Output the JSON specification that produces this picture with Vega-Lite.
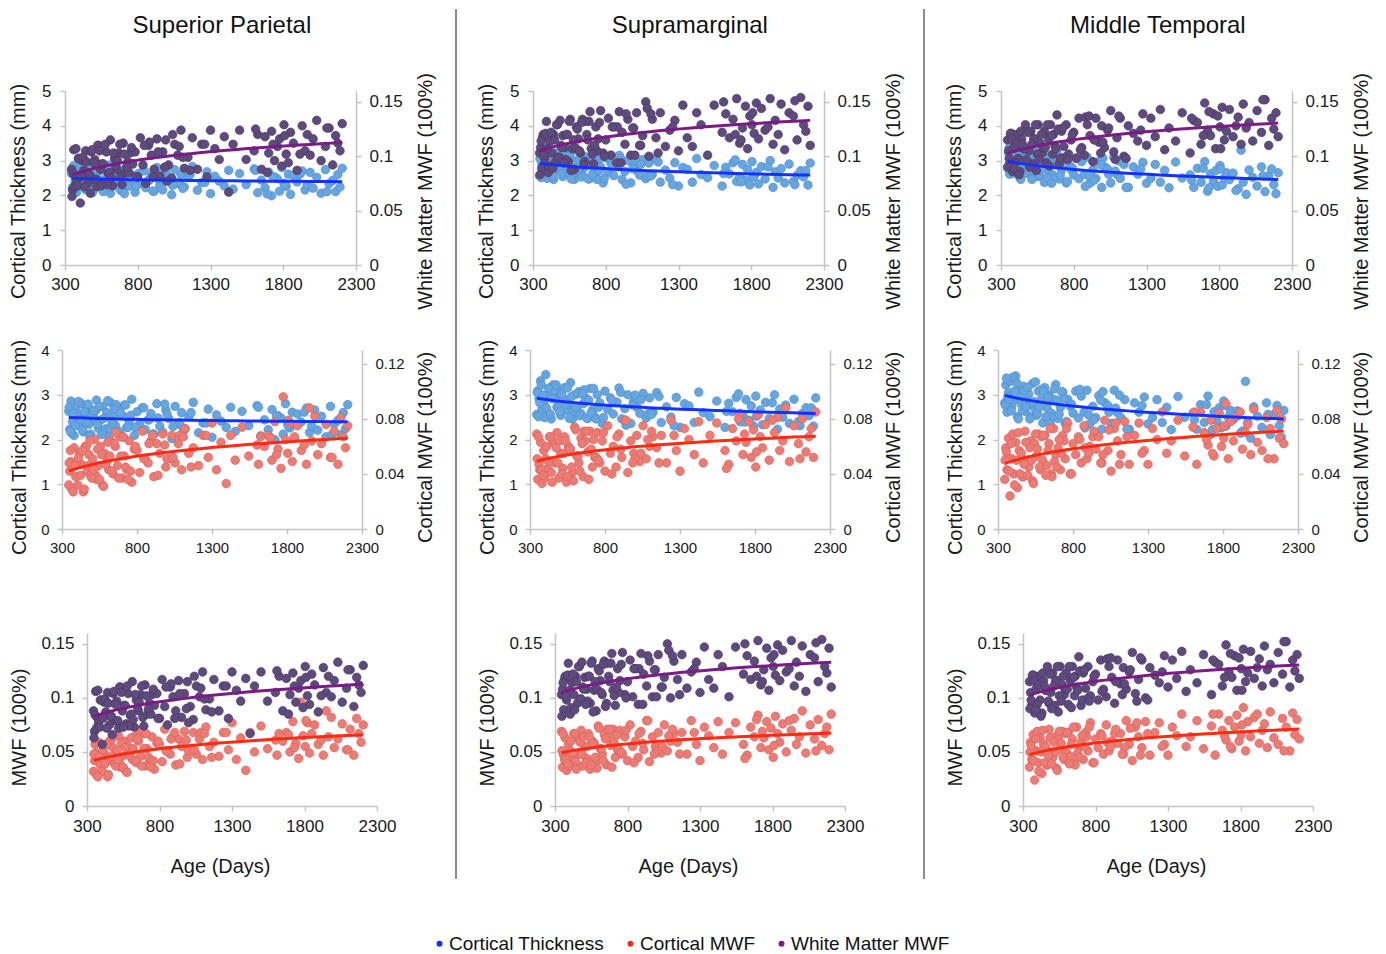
{
"$schema": "https://vega.github.io/schema/vega-lite/v6.json",
"background": "white",
"padding": {"left": 8, "top": 8, "right": 6, "bottom": 0},
"config": {
  "view": {"stroke": null},
  "font": "Liberation Sans",
  "axis": {"domainColor": "#c4c4c4", "domainWidth": 1.5, "tickColor": "#c4c4c4", "tickWidth": 1.5, "tickSize": 5, "grid": false, "labelColor": "#1a1a1a", "titleColor": "#1a1a1a", "titleFontWeight": "normal", "titleFontSize": 20, "labelFont": "Liberation Sans", "titleFont": "Liberation Sans", "labelFlush": false, "labelOverlap": false},
  "title": {"fontSize": 24, "fontWeight": "normal", "font": "Liberation Sans", "color": "#111111"},
  "legend": {"orient": "bottom", "direction": "horizontal", "symbolType": "circle", "symbolSize": 36, "labelFontSize": 19, "labelFont": "Liberation Sans", "labelColor": "#111111", "columnPadding": 16, "labelOffset": 0, "offset": 54, "layout": {"bottom": {"anchor": "middle"}}}
},
"datasets": {"d": [
{"a":345,"t1":2.63,"c1":0.032,"w1":0.088,"t2":2.56,"c2":0.069,"w2":0.103,"t3":2.82,"c3":0.036,"w3":0.115},
{"a":352,"t1":2.23,"c1":0.042,"w1":0.069,"t2":3.09,"c2":0.036,"w2":0.108,"t3":3.22,"c3":0.059,"w3":0.105},
{"a":360,"t1":2.86,"c1":0.049,"w1":0.106,"t2":2.91,"c2":0.047,"w2":0.089,"t3":2.61,"c3":0.043,"w3":0.093},
{"a":370,"t1":2.40,"c1":0.029,"w1":0.082,"t2":3.31,"c2":0.063,"w2":0.120,"t3":3.05,"c3":0.066,"w3":0.121},
{"a":380,"t1":2.09,"c1":0.059,"w1":0.077,"t2":2.68,"c2":0.033,"w2":0.098,"t3":3.30,"c3":0.024,"w3":0.086},
{"a":392,"t1":2.72,"c1":0.038,"w1":0.098,"t2":2.85,"c2":0.057,"w2":0.132,"t3":2.74,"c3":0.051,"w3":0.109},
{"a":405,"t1":2.54,"c1":0.032,"w1":0.057,"t2":3.45,"c2":0.051,"w2":0.085,"t3":2.88,"c3":0.040,"w3":0.120},
{"a":418,"t1":2.31,"c1":0.055,"w1":0.096,"t2":2.61,"c2":0.044,"w2":0.114,"t3":3.42,"c3":0.063,"w3":0.098},
{"a":430,"t1":2.80,"c1":0.047,"w1":0.087,"t2":3.01,"c2":0.067,"w2":0.103,"t3":2.51,"c3":0.030,"w3":0.086},
{"a":442,"t1":2.17,"c1":0.027,"w1":0.105,"t2":2.46,"c2":0.041,"w2":0.120,"t3":3.11,"c3":0.057,"w3":0.116},
{"a":455,"t1":2.57,"c1":0.060,"w1":0.075,"t2":3.22,"c2":0.063,"w2":0.095,"t3":2.80,"c3":0.055,"w3":0.107},
{"a":468,"t1":2.75,"c1":0.042,"w1":0.083,"t2":2.91,"c2":0.048,"w2":0.129,"t3":3.19,"c3":0.038,"w3":0.129},
{"a":480,"t1":2.34,"c1":0.054,"w1":0.104,"t2":2.72,"c2":0.070,"w2":0.099,"t3":2.63,"c3":0.071,"w3":0.095},
{"a":492,"t1":2.12,"c1":0.039,"w1":0.079,"t2":3.08,"c2":0.037,"w2":0.110,"t3":2.87,"c3":0.050,"w3":0.105},
{"a":505,"t1":2.65,"c1":0.051,"w1":0.097,"t2":2.54,"c2":0.055,"w2":0.119,"t3":3.02,"c3":0.045,"w3":0.123},
{"a":518,"t1":2.47,"c1":0.065,"w1":0.072,"t2":2.93,"c2":0.044,"w2":0.108,"t3":2.51,"c3":0.064,"w3":0.093},
{"a":530,"t1":2.88,"c1":0.036,"w1":0.110,"t2":3.16,"c2":0.067,"w2":0.120,"t3":3.25,"c3":0.035,"w3":0.116},
{"a":543,"t1":2.25,"c1":0.046,"w1":0.088,"t2":2.65,"c2":0.034,"w2":0.095,"t3":2.70,"c3":0.062,"w3":0.087},
{"a":556,"t1":2.43,"c1":0.060,"w1":0.093,"t2":2.79,"c2":0.060,"w2":0.134,"t3":2.54,"c3":0.053,"w3":0.129},
{"a":570,"t1":2.74,"c1":0.032,"w1":0.076,"t2":3.27,"c2":0.058,"w2":0.107,"t3":3.08,"c3":0.069,"w3":0.112},
{"a":584,"t1":2.20,"c1":0.055,"w1":0.104,"t2":2.46,"c2":0.041,"w2":0.088,"t3":2.88,"c3":0.043,"w3":0.103},
{"a":598,"t1":2.60,"c1":0.049,"w1":0.084,"t2":3.00,"c2":0.074,"w2":0.127,"t3":2.37,"c3":0.050,"w3":0.123},
{"a":612,"t1":2.06,"c1":0.043,"w1":0.115,"t2":2.72,"c2":0.053,"w2":0.116,"t3":3.16,"c3":0.068,"w3":0.094},
{"a":626,"t1":2.82,"c1":0.064,"w1":0.073,"t2":3.07,"c2":0.048,"w2":0.103,"t3":2.71,"c3":0.046,"w3":0.116},
{"a":640,"t1":2.51,"c1":0.040,"w1":0.098,"t2":2.58,"c2":0.066,"w2":0.134,"t3":3.00,"c3":0.062,"w3":0.129},
{"a":655,"t1":2.32,"c1":0.060,"w1":0.088,"t2":2.80,"c2":0.038,"w2":0.095,"t3":2.59,"c3":0.040,"w3":0.102},
{"a":670,"t1":2.69,"c1":0.046,"w1":0.103,"t2":2.93,"c2":0.064,"w2":0.120,"t3":2.89,"c3":0.073,"w3":0.110},
{"a":685,"t1":2.14,"c1":0.067,"w1":0.082,"t2":2.47,"c2":0.056,"w2":0.132,"t3":3.23,"c3":0.054,"w3":0.138},
{"a":700,"t1":2.54,"c1":0.037,"w1":0.112,"t2":3.14,"c2":0.071,"w2":0.107,"t3":2.47,"c3":0.059,"w3":0.093},
{"a":716,"t1":2.77,"c1":0.053,"w1":0.085,"t2":2.65,"c2":0.045,"w2":0.093,"t3":2.72,"c3":0.043,"w3":0.123},
{"a":732,"t1":2.27,"c1":0.043,"w1":0.095,"t2":2.51,"c2":0.052,"w2":0.127,"t3":3.06,"c3":0.068,"w3":0.109},
{"a":748,"t1":2.40,"c1":0.064,"w1":0.103,"t2":3.00,"c2":0.070,"w2":0.116,"t3":2.36,"c3":0.051,"w3":0.129},
{"a":765,"t1":2.90,"c1":0.034,"w1":0.093,"t2":2.82,"c2":0.048,"w2":0.142,"t3":2.90,"c3":0.077,"w3":0.102},
{"a":782,"t1":2.09,"c1":0.058,"w1":0.104,"t2":2.36,"c2":0.064,"w2":0.103,"t3":2.74,"c3":0.040,"w3":0.115},
{"a":800,"t1":2.62,"c1":0.057,"w1":0.081,"t2":3.08,"c2":0.042,"w2":0.115,"t3":2.59,"c3":0.062,"w3":0.122},
{"a":818,"t1":2.35,"c1":0.041,"w1":0.117,"t2":2.67,"c2":0.075,"w2":0.135,"t3":3.08,"c3":0.054,"w3":0.098},
{"a":836,"t1":2.71,"c1":0.071,"w1":0.092,"t2":2.93,"c2":0.055,"w2":0.101,"t3":2.48,"c3":0.067,"w3":0.135},
{"a":855,"t1":2.22,"c1":0.051,"w1":0.075,"t2":2.57,"c2":0.060,"w2":0.127,"t3":2.97,"c3":0.048,"w3":0.108},
{"a":874,"t1":2.44,"c1":0.048,"w1":0.110,"t2":2.83,"c2":0.045,"w2":0.094,"t3":2.61,"c3":0.075,"w3":0.101},
{"a":893,"t1":2.58,"c1":0.064,"w1":0.101,"t2":3.15,"c2":0.069,"w2":0.141,"t3":3.10,"c3":0.051,"w3":0.129},
{"a":912,"t1":2.12,"c1":0.038,"w1":0.088,"t2":2.46,"c2":0.052,"w2":0.122,"t3":2.35,"c3":0.060,"w3":0.119},
{"a":932,"t1":2.80,"c1":0.062,"w1":0.116,"t2":2.69,"c2":0.079,"w2":0.111,"t3":2.74,"c3":0.067,"w3":0.095},
{"a":952,"t1":2.30,"c1":0.055,"w1":0.082,"t2":3.00,"c2":0.041,"w2":0.134,"t3":2.49,"c3":0.058,"w3":0.135},
{"a":972,"t1":2.16,"c1":0.069,"w1":0.104,"t2":2.36,"c2":0.064,"w2":0.101,"t3":2.98,"c3":0.067,"w3":0.113},
{"a":992,"t1":2.66,"c1":0.045,"w1":0.115,"t2":2.86,"c2":0.055,"w2":0.126,"t3":2.23,"c3":0.048,"w3":0.128},
{"a":1012,"t1":2.47,"c1":0.051,"w1":0.092,"t2":2.72,"c2":0.068,"w2":0.140,"t3":2.82,"c3":0.079,"w3":0.108},
{"a":1033,"t1":2.02,"c1":0.068,"w1":0.080,"t2":2.58,"c2":0.049,"w2":0.110,"t3":2.76,"c3":0.057,"w3":0.124},
{"a":1054,"t1":2.74,"c1":0.048,"w1":0.111,"t2":3.03,"c2":0.075,"w2":0.119,"t3":2.36,"c3":0.042,"w3":0.142},
{"a":1075,"t1":2.34,"c1":0.062,"w1":0.101,"t2":2.48,"c2":0.051,"w2":0.150,"t3":3.10,"c3":0.073,"w3":0.104},
{"a":1097,"t1":2.60,"c1":0.043,"w1":0.124,"t2":2.93,"c2":0.060,"w2":0.100,"t3":2.60,"c3":0.064,"w3":0.117},
{"a":1120,"t1":2.24,"c1":0.073,"w1":0.089,"t2":2.61,"c2":0.067,"w2":0.134,"t3":2.49,"c3":0.054,"w3":0.135},
{"a":1145,"t1":2.51,"c1":0.055,"w1":0.099,"t2":3.05,"c2":0.059,"w2":0.117,"t3":2.89,"c3":0.078,"w3":0.100},
{"a":1175,"t1":2.83,"c1":0.059,"w1":0.117,"t2":2.38,"c2":0.068,"w2":0.140,"t3":2.23,"c3":0.047,"w3":0.128},
{"a":1210,"t1":2.15,"c1":0.046,"w1":0.088,"t2":2.73,"c2":0.048,"w2":0.109,"t3":2.82,"c3":0.068,"w3":0.121},
{"a":1240,"t1":2.37,"c1":0.068,"w1":0.111,"t2":2.50,"c2":0.079,"w2":0.124,"t3":2.61,"c3":0.077,"w3":0.114},
{"a":1275,"t1":2.68,"c1":0.052,"w1":0.081,"t2":2.94,"c2":0.057,"w2":0.133,"t3":2.95,"c3":0.057,"w3":0.139},
{"a":1300,"t1":2.05,"c1":0.077,"w1":0.124,"t2":2.27,"c2":0.042,"w2":0.105,"t3":2.35,"c3":0.047,"w3":0.110},
{"a":1330,"t1":2.55,"c1":0.043,"w1":0.107,"t2":2.80,"c2":0.073,"w2":0.147,"t3":2.49,"c3":0.073,"w3":0.135},
{"a":1360,"t1":2.41,"c1":0.063,"w1":0.097,"t2":2.75,"c2":0.065,"w2":0.117,"t3":2.89,"c3":0.065,"w3":0.118},
{"a":1395,"t1":2.27,"c1":0.033,"w1":0.118,"t2":2.38,"c2":0.054,"w2":0.109,"t3":2.38,"c3":0.085,"w3":0.143},
{"a":1425,"t1":2.72,"c1":0.068,"w1":0.067,"t2":3.06,"c2":0.078,"w2":0.140,"t3":2.72,"c3":0.055,"w3":0.106},
{"a":1455,"t1":2.18,"c1":0.050,"w1":0.111,"t2":2.60,"c2":0.048,"w2":0.129,"t3":2.22,"c3":0.064,"w3":0.126},
{"a":1500,"t1":2.63,"c1":0.074,"w1":0.124,"t2":2.51,"c2":0.068,"w2":0.101,"t3":2.96,"c3":0.079,"w3":0.114},
{"a":1545,"t1":2.31,"c1":0.053,"w1":0.097,"t2":2.86,"c2":0.077,"w2":0.147,"t3":2.50,"c3":0.053,"w3":0.140},
{"a":1600,"t1":2.76,"c1":0.061,"w1":0.105,"t2":2.27,"c2":0.057,"w2":0.122,"t3":2.59,"c3":0.074,"w3":0.103},
{"a":1625,"t1":2.08,"c1":0.067,"w1":0.120,"t2":2.81,"c2":0.047,"w2":0.139,"t3":2.23,"c3":0.047,"w3":0.133},
{"a":1650,"t1":2.44,"c1":0.060,"w1":0.088,"t2":2.62,"c2":0.073,"w2":0.117,"t3":2.78,"c3":0.085,"w3":0.131},
{"a":1675,"t1":2.22,"c1":0.068,"w1":0.118,"t2":2.94,"c2":0.064,"w2":0.134,"t3":2.38,"c3":0.070,"w3":0.111},
{"a":1700,"t1":2.67,"c1":0.050,"w1":0.103,"t2":2.40,"c2":0.084,"w2":0.153,"t3":2.97,"c3":0.061,"w3":0.149},
{"a":1720,"t1":1.99,"c1":0.078,"w1":0.123,"t2":2.53,"c2":0.054,"w2":0.112,"t3":2.12,"c3":0.079,"w3":0.124},
{"a":1740,"t1":2.53,"c1":0.058,"w1":0.096,"t2":2.89,"c2":0.063,"w2":0.126,"t3":2.62,"c3":0.053,"w3":0.119},
{"a":1760,"t1":2.48,"c1":0.044,"w1":0.109,"t2":2.43,"c2":0.078,"w2":0.146,"t3":2.41,"c3":0.073,"w3":0.139},
{"a":1775,"t1":2.12,"c1":0.096,"w1":0.116,"t2":2.75,"c2":0.052,"w2":0.107,"t3":2.71,"c3":0.084,"w3":0.107},
{"a":1790,"t1":2.80,"c1":0.065,"w1":0.091,"t2":2.30,"c2":0.072,"w2":0.137,"t3":2.26,"c3":0.060,"w3":0.137},
{"a":1805,"t1":2.35,"c1":0.055,"w1":0.129,"t2":2.97,"c2":0.045,"w2":0.129,"t3":2.86,"c3":0.066,"w3":0.127},
{"a":1820,"t1":2.26,"c1":0.077,"w1":0.102,"t2":2.56,"c2":0.083,"w2":0.121,"t3":2.30,"c3":0.091,"w3":0.145},
{"a":1835,"t1":2.61,"c1":0.049,"w1":0.094,"t2":2.66,"c2":0.067,"w2":0.149,"t3":2.50,"c3":0.051,"w3":0.115},
{"a":1850,"t1":2.03,"c1":0.067,"w1":0.122,"t2":2.33,"c2":0.059,"w2":0.116,"t3":2.65,"c3":0.078,"w3":0.123},
{"a":1870,"t1":2.57,"c1":0.075,"w1":0.112,"t2":2.83,"c2":0.076,"w2":0.144,"t3":2.45,"c3":0.064,"w3":0.143},
{"a":1895,"t1":2.39,"c1":0.057,"w1":0.087,"t2":2.47,"c2":0.050,"w2":0.124,"t3":2.64,"c3":0.082,"w3":0.118},
{"a":1930,"t1":2.70,"c1":0.047,"w1":0.128,"t2":3.00,"c2":0.070,"w2":0.153,"t3":2.19,"c3":0.058,"w3":0.136},
{"a":1950,"t1":2.16,"c1":0.088,"w1":0.105,"t2":2.23,"c2":0.081,"w2":0.111,"t3":3.30,"c3":0.070,"w3":0.111},
{"a":1965,"t1":2.30,"c1":0.064,"w1":0.120,"t2":2.68,"c2":0.057,"w2":0.133,"t3":2.38,"c3":0.076,"w3":0.148},
{"a":1985,"t1":2.66,"c1":0.082,"w1":0.101,"t2":2.50,"c2":0.064,"w2":0.120,"t3":2.03,"c3":0.054,"w3":0.126},
{"a":2005,"t1":2.21,"c1":0.054,"w1":0.116,"t2":2.77,"c2":0.088,"w2":0.148,"t3":2.73,"c3":0.087,"w3":0.131},
{"a":2030,"t1":2.52,"c1":0.062,"w1":0.133,"t2":2.36,"c2":0.049,"w2":0.106,"t3":2.52,"c3":0.063,"w3":0.114},
{"a":2060,"t1":2.06,"c1":0.076,"w1":0.096,"t2":2.90,"c2":0.075,"w2":0.140,"t3":2.27,"c3":0.057,"w3":0.142},
{"a":2090,"t1":2.74,"c1":0.052,"w1":0.109,"t2":2.40,"c2":0.062,"w2":0.137,"t3":2.82,"c3":0.081,"w3":0.122},
{"a":2115,"t1":2.34,"c1":0.071,"w1":0.126,"t2":2.58,"c2":0.080,"w2":0.115,"t3":2.11,"c3":0.073,"w3":0.152},
{"a":2140,"t1":2.43,"c1":0.047,"w1":0.092,"t2":2.71,"c2":0.056,"w2":0.154,"t3":2.56,"c3":0.051,"w3":0.110},
{"a":2160,"t1":2.11,"c1":0.081,"w1":0.119,"t2":2.53,"c2":0.067,"w2":0.129,"t3":2.76,"c3":0.086,"w3":0.135},
{"a":2175,"t1":2.60,"c1":0.067,"w1":0.112,"t2":2.71,"c2":0.073,"w2":0.123,"t3":2.31,"c3":0.066,"w3":0.125},
{"a":2190,"t1":2.24,"c1":0.059,"w1":0.105,"t2":2.30,"c2":0.052,"w2":0.146,"t3":2.05,"c3":0.080,"w3":0.140},
{"a":2205,"t1":2.78,"c1":0.075,"w1":0.130,"t2":2.93,"c2":0.085,"w2":0.110,"t3":2.65,"c3":0.062,"w3":0.118},
{"a":365,"t1":2.14,"c1":0.029,"w1":0.072,"t2":2.82,"c2":0.043,"w2":0.117,"t3":2.96,"c3":0.052,"w3":0.121},
{"a":398,"t1":2.58,"c1":0.048,"w1":0.098,"t2":2.49,"c2":0.037,"w2":0.107,"t3":3.39,"c3":0.069,"w3":0.094},
{"a":462,"t1":2.39,"c1":0.060,"w1":0.083,"t2":3.09,"c2":0.063,"w2":0.129,"t3":2.65,"c3":0.038,"w3":0.107},
{"a":525,"t1":2.65,"c1":0.039,"w1":0.110,"t2":2.89,"c2":0.055,"w2":0.097,"t3":2.81,"c3":0.050,"w3":0.116},
{"a":590,"t1":2.24,"c1":0.047,"w1":0.074,"t2":2.64,"c2":0.035,"w2":0.108,"t3":3.12,"c3":0.067,"w3":0.108},
{"a":660,"t1":2.78,"c1":0.070,"w1":0.096,"t2":3.11,"c2":0.071,"w2":0.132,"t3":2.49,"c3":0.038,"w3":0.120},
{"a":740,"t1":2.27,"c1":0.036,"w1":0.085,"t2":2.46,"c2":0.052,"w2":0.105,"t3":2.91,"c3":0.064,"w3":0.099},
{"a":880,"t1":2.44,"c1":0.062,"w1":0.113,"t2":2.83,"c2":0.067,"w2":0.127,"t3":2.26,"c3":0.059,"w3":0.136},
{"a":1000,"t1":2.56,"c1":0.051,"w1":0.077,"t2":2.99,"c2":0.051,"w2":0.101,"t3":3.07,"c3":0.054,"w3":0.113},
{"a":1085,"t1":2.38,"c1":0.068,"w1":0.109,"t2":2.57,"c2":0.065,"w2":0.144,"t3":2.70,"c3":0.077,"w3":0.097},
{"a":348,"t1":2.72,"c1":0.048,"w1":0.063,"t2":3.05,"c2":0.051,"w2":0.083,"t3":2.77,"c3":0.050,"w3":0.090},
{"a":356,"t1":2.18,"c1":0.057,"w1":0.084,"t2":2.51,"c2":0.067,"w2":0.114,"t3":3.37,"c3":0.056,"w3":0.098},
{"a":375,"t1":2.58,"c1":0.027,"w1":0.107,"t2":3.22,"c2":0.043,"w2":0.101,"t3":2.90,"c3":0.042,"w3":0.116},
{"a":388,"t1":2.31,"c1":0.046,"w1":0.073,"t2":2.99,"c2":0.039,"w2":0.121,"t3":2.64,"c3":0.062,"w3":0.089},
{"a":410,"t1":2.85,"c1":0.052,"w1":0.081,"t2":2.71,"c2":0.060,"w2":0.091,"t3":3.08,"c3":0.032,"w3":0.112},
{"a":424,"t1":2.44,"c1":0.039,"w1":0.099,"t2":3.15,"c2":0.049,"w2":0.122,"t3":3.27,"c3":0.050,"w3":0.083},
{"a":436,"t1":2.21,"c1":0.057,"w1":0.072,"t2":2.56,"c2":0.067,"w2":0.089,"t3":2.46,"c3":0.070,"w3":0.123},
{"a":448,"t1":2.62,"c1":0.029,"w1":0.095,"t2":2.91,"c2":0.034,"w2":0.115,"t3":2.95,"c3":0.040,"w3":0.111},
{"a":474,"t1":2.79,"c1":0.046,"w1":0.066,"t2":3.22,"c2":0.059,"w2":0.099,"t3":3.09,"c3":0.047,"w3":0.097},
{"a":486,"t1":2.07,"c1":0.064,"w1":0.106,"t2":2.72,"c2":0.048,"w2":0.133,"t3":2.73,"c3":0.063,"w3":0.122},
{"a":498,"t1":2.52,"c1":0.037,"w1":0.094,"t2":2.62,"c2":0.064,"w2":0.108,"t3":3.17,"c3":0.039,"w3":0.090},
{"a":512,"t1":2.65,"c1":0.043,"w1":0.079,"t2":3.02,"c2":0.040,"w2":0.094,"t3":2.46,"c3":0.059,"w3":0.111},
{"a":537,"t1":2.34,"c1":0.058,"w1":0.105,"t2":2.79,"c2":0.064,"w2":0.120,"t3":2.85,"c3":0.033,"w3":0.129},
{"a":550,"t1":2.74,"c1":0.036,"w1":0.073,"t2":3.15,"c2":0.038,"w2":0.132,"t3":3.29,"c3":0.069,"w3":0.102},
{"a":563,"t1":2.11,"c1":0.054,"w1":0.093,"t2":2.47,"c2":0.058,"w2":0.087,"t3":2.59,"c3":0.058,"w3":0.097},
{"a":577,"t1":2.47,"c1":0.031,"w1":0.111,"t2":2.96,"c2":0.045,"w2":0.115,"t3":2.73,"c3":0.045,"w3":0.120},
{"a":605,"t1":2.87,"c1":0.063,"w1":0.085,"t2":2.72,"c2":0.072,"w2":0.125,"t3":3.07,"c3":0.068,"w3":0.108},
{"a":619,"t1":2.24,"c1":0.053,"w1":0.080,"t2":3.03,"c2":0.053,"w2":0.105,"t3":2.51,"c3":0.039,"w3":0.129},
{"a":633,"t1":2.37,"c1":0.042,"w1":0.103,"t2":2.53,"c2":0.042,"w2":0.131,"t3":2.95,"c3":0.057,"w3":0.091},
{"a":648,"t1":2.68,"c1":0.062,"w1":0.091,"t2":3.02,"c2":0.062,"w2":0.092,"t3":2.35,"c3":0.073,"w3":0.119},
{"a":677,"t1":2.19,"c1":0.037,"w1":0.111,"t2":2.48,"c2":0.071,"w2":0.115,"t3":3.13,"c3":0.049,"w3":0.107},
{"a":692,"t1":2.59,"c1":0.053,"w1":0.074,"t2":2.88,"c2":0.036,"w2":0.141,"t3":2.88,"c3":0.045,"w3":0.125},
{"a":708,"t1":2.05,"c1":0.067,"w1":0.102,"t2":2.60,"c2":0.058,"w2":0.102,"t3":2.57,"c3":0.065,"w3":0.098},
{"a":724,"t1":2.77,"c1":0.045,"w1":0.090,"t2":3.14,"c2":0.065,"w2":0.110,"t3":3.07,"c3":0.055,"w3":0.126},
{"a":757,"t1":2.54,"c1":0.042,"w1":0.108,"t2":2.72,"c2":0.050,"w2":0.131,"t3":2.40,"c3":0.073,"w3":0.097},
{"a":790,"t1":2.27,"c1":0.060,"w1":0.081,"t2":2.49,"c2":0.070,"w2":0.100,"t3":2.79,"c3":0.040,"w3":0.120},
{"a":845,"t1":2.71,"c1":0.051,"w1":0.110,"t2":2.88,"c2":0.040,"w2":0.127,"t3":3.12,"c3":0.065,"w3":0.106},
{"a":905,"t1":2.12,"c1":0.068,"w1":0.081,"t2":3.05,"c2":0.058,"w2":0.094,"t3":2.55,"c3":0.055,"w3":0.137},
{"a":940,"t1":2.48,"c1":0.039,"w1":0.104,"t2":2.32,"c2":0.079,"w2":0.139,"t3":2.44,"c3":0.071,"w3":0.115},
{"a":985,"t1":2.79,"c1":0.061,"w1":0.090,"t2":2.77,"c2":0.048,"w2":0.126,"t3":2.88,"c3":0.048,"w3":0.103},
{"a":1040,"t1":2.29,"c1":0.052,"w1":0.120,"t2":2.89,"c2":0.055,"w2":0.110,"t3":2.61,"c3":0.072,"w3":0.126},
{"a":1110,"t1":2.20,"c1":0.067,"w1":0.099,"t2":2.56,"c2":0.071,"w2":0.139,"t3":2.99,"c3":0.047,"w3":0.137},
{"a":1160,"t1":2.60,"c1":0.045,"w1":0.087,"t2":2.96,"c2":0.048,"w2":0.103,"t3":2.23,"c3":0.067,"w3":0.098},
{"a":1260,"t1":2.37,"c1":0.068,"w1":0.111,"t2":2.31,"c2":0.068,"w2":0.127,"t3":2.76,"c3":0.055,"w3":0.124},
{"a":1610,"t1":2.72,"c1":0.047,"w1":0.125,"t2":2.63,"c2":0.044,"w2":0.150,"t3":2.44,"c3":0.085,"w3":0.135},
{"a":1690,"t1":2.04,"c1":0.066,"w1":0.085,"t2":3.02,"c2":0.080,"w2":0.120,"t3":2.78,"c3":0.065,"w3":0.119},
{"a":1730,"t1":2.53,"c1":0.054,"w1":0.111,"t2":2.39,"c2":0.069,"w2":0.115,"t3":2.22,"c3":0.055,"w3":0.141},
{"a":1810,"t1":2.30,"c1":0.079,"w1":0.119,"t2":2.52,"c2":0.056,"w2":0.140,"t3":2.76,"c3":0.075,"w3":0.107},
{"a":1915,"t1":2.61,"c1":0.061,"w1":0.102,"t2":2.82,"c2":0.079,"w2":0.127,"t3":2.14,"c3":0.085,"w3":0.128},
{"a":2100,"t1":2.11,"c1":0.052,"w1":0.126,"t2":2.31,"c2":0.051,"w2":0.151,"t3":2.56,"c3":0.051,"w3":0.152}
]},
"data": {"name": "d"},
"spacing": 19,
"hconcat": [
{
 "title": {"text": "Superior Parietal", "anchor": "middle", "offset": 35},
 "spacing": 78,
 "vconcat": [
  {"spacing": 29, "vconcat": [
   {"width": 294, "height": 174,
    "encoding": {"x": {"field": "a", "type": "quantitative", "scale": {"domain": [300, 2300], "nice": false, "range": [3, 294]}, "axis": {"values": [300, 800, 1300, 1800, 2300], "format": "d", "title": null, "labelFontSize": 17, "labelPadding": 6}}},
    "layer": [
     {"mark": {"type": "circle", "size": 75, "opacity": 1, "color": "#67a5df", "stroke": "#4d8ccb", "strokeWidth": 0.6},
      "encoding": {"y": {"field": "t1", "type": "quantitative", "scale": {"domain": [0, 5], "nice": false}, "axis": {"orient": "left", "offset": -3, "values": [0, 1, 2, 3, 4, 5], "title": "Cortical Thickness (mm)", "labelFontSize": 17, "labelPadding": 9, "titlePadding": 13, "titleY": 100}}}},
     {"mark": {"type": "circle", "size": 75, "opacity": 1, "color": "#5e4a7d", "stroke": "#47365f", "strokeWidth": 0.6},
      "encoding": {"y": {"field": "w1", "type": "quantitative", "scale": {"domain": [0, 0.16], "nice": false}, "axis": {"orient": "right", "values": [0, 0.05, 0.1, 0.15], "format": ".2~f", "title": "White Matter MWF (100%)", "labelFontSize": 17, "labelPadding": 8, "titlePadding": 13, "titleY": 100, "titleAngle": 270, "titleBaseline": "top"}}}},
     {"transform": [{"regression": "t1", "on": "a", "method": "log"}], "mark": {"type": "line", "strokeWidth": 3},
      "encoding": {"y": {"field": "t1", "type": "quantitative", "scale": {"domain": [0, 5], "nice": false}, "axis": null},
       "color": {"datum": "Cortical Thickness", "type": "nominal", "scale": {"domain": ["Cortical Thickness", "Cortical MWF", "White Matter MWF"], "range": ["#1432ff", "#ff2a10", "#7b1b86"]}, "legend": {"title": null, "encode": {"symbols": {"update": {"fill": {"scale": "color", "field": "value"}, "fillOpacity": {"value": 1}, "strokeWidth": {"value": 0}}}}}}}},
     {"transform": [{"regression": "w1", "on": "a", "method": "log"}], "mark": {"type": "line", "strokeWidth": 3},
      "encoding": {"y": {"field": "w1", "type": "quantitative", "scale": {"domain": [0, 0.16], "nice": false}, "axis": null},
       "color": {"datum": "White Matter MWF", "type": "nominal", "scale": {"domain": ["Cortical Thickness", "Cortical MWF", "White Matter MWF"], "range": ["#1432ff", "#ff2a10", "#7b1b86"]}, "legend": {"title": null, "encode": {"symbols": {"update": {"fill": {"scale": "color", "field": "value"}, "fillOpacity": {"value": 1}, "strokeWidth": {"value": 0}}}}}}}}
    ],
    "resolve": {"scale": {"y": "independent"}}},
   {"width": 300, "height": 179,
    "encoding": {"x": {"field": "a", "type": "quantitative", "scale": {"domain": [300, 2300], "nice": false}, "axis": {"values": [300, 800, 1300, 1800, 2300], "format": "d", "title": null, "labelFontSize": 15, "labelPadding": 6}}},
    "layer": [
     {"mark": {"type": "circle", "size": 75, "opacity": 1, "color": "#67a5df", "stroke": "#4d8ccb", "strokeWidth": 0.6},
      "encoding": {"y": {"field": "t1", "type": "quantitative", "scale": {"domain": [0, 4], "nice": false}, "axis": {"orient": "left", "values": [0, 1, 2, 3, 4], "title": "Cortical Thickness (mm)", "labelFontSize": 15, "labelPadding": 8, "titlePadding": 11, "titleY": 97}}}},
     {"mark": {"type": "circle", "size": 75, "opacity": 1, "color": "#ec7b74", "stroke": "#d4605a", "strokeWidth": 0.6},
      "encoding": {"y": {"field": "c1", "type": "quantitative", "scale": {"domain": [0, 0.13], "nice": false}, "axis": {"orient": "right", "values": [0, 0.04, 0.08, 0.12], "format": ".2~f", "title": "Cortical MWF (100%)", "labelFontSize": 15, "labelPadding": 8, "titlePadding": 11, "titleY": 97, "titleAngle": 270, "titleBaseline": "top"}}}},
     {"transform": [{"regression": "t1", "on": "a", "method": "log"}], "mark": {"type": "line", "strokeWidth": 3},
      "encoding": {"y": {"field": "t1", "type": "quantitative", "scale": {"domain": [0, 4], "nice": false}, "axis": null},
       "color": {"datum": "Cortical Thickness", "type": "nominal", "scale": {"domain": ["Cortical Thickness", "Cortical MWF", "White Matter MWF"], "range": ["#1432ff", "#ff2a10", "#7b1b86"]}, "legend": {"title": null, "encode": {"symbols": {"update": {"fill": {"scale": "color", "field": "value"}, "fillOpacity": {"value": 1}, "strokeWidth": {"value": 0}}}}}}}},
     {"transform": [{"regression": "c1", "on": "a", "method": "log"}], "mark": {"type": "line", "strokeWidth": 3},
      "encoding": {"y": {"field": "c1", "type": "quantitative", "scale": {"domain": [0, 0.13], "nice": false}, "axis": null},
       "color": {"datum": "Cortical MWF", "type": "nominal", "scale": {"domain": ["Cortical Thickness", "Cortical MWF", "White Matter MWF"], "range": ["#1432ff", "#ff2a10", "#7b1b86"]}, "legend": {"title": null, "encode": {"symbols": {"update": {"fill": {"scale": "color", "field": "value"}, "fillOpacity": {"value": 1}, "strokeWidth": {"value": 0}}}}}}}}
    ],
    "resolve": {"scale": {"y": "independent"}}}
  ]},
  {"width": 315, "height": 173,
   "encoding": {"x": {"field": "a", "type": "quantitative", "scale": {"domain": [300, 2300], "nice": false, "range": [25, 315]}, "axis": {"values": [300, 800, 1300, 1800, 2300], "format": "d", "title": "Age (Days)", "labelFontSize": 17, "labelPadding": 7, "titlePadding": 22, "titleX": 158}}},
   "layer": [
    {"mark": {"type": "circle", "size": 75, "opacity": 1, "color": "#ec7b74", "stroke": "#d4605a", "strokeWidth": 0.6},
     "encoding": {"y": {"field": "c1", "type": "quantitative", "scale": {"domain": [0, 0.16], "nice": false}, "axis": {"orient": "left", "offset": -25, "values": [0, 0.05, 0.1, 0.15], "format": ".2~f", "title": "MWF (100%)", "labelFontSize": 17, "labelPadding": 8, "titlePadding": 11, "titleY": 94}}}},
    {"mark": {"type": "circle", "size": 75, "opacity": 1, "color": "#5e4a7d", "stroke": "#47365f", "strokeWidth": 0.6},
     "encoding": {"y": {"field": "w1", "type": "quantitative", "scale": {"domain": [0, 0.16], "nice": false}, "axis": {"orient": "left", "offset": -25, "values": [0, 0.05, 0.1, 0.15], "format": ".2~f", "title": "MWF (100%)", "labelFontSize": 17, "labelPadding": 8, "titlePadding": 11, "titleY": 94}}}},
    {"transform": [{"regression": "c1", "on": "a", "method": "log"}], "mark": {"type": "line", "strokeWidth": 3},
     "encoding": {"y": {"field": "c1", "type": "quantitative", "scale": {"domain": [0, 0.16], "nice": false}, "axis": {"orient": "left", "offset": -25, "values": [0, 0.05, 0.1, 0.15], "format": ".2~f", "title": "MWF (100%)", "labelFontSize": 17, "labelPadding": 8, "titlePadding": 11, "titleY": 94}},
      "color": {"datum": "Cortical MWF", "type": "nominal", "scale": {"domain": ["Cortical Thickness", "Cortical MWF", "White Matter MWF"], "range": ["#1432ff", "#ff2a10", "#7b1b86"]}, "legend": {"title": null, "encode": {"symbols": {"update": {"fill": {"scale": "color", "field": "value"}, "fillOpacity": {"value": 1}, "strokeWidth": {"value": 0}}}}}}}},
    {"transform": [{"regression": "w1", "on": "a", "method": "log"}], "mark": {"type": "line", "strokeWidth": 3},
     "encoding": {"y": {"field": "w1", "type": "quantitative", "scale": {"domain": [0, 0.16], "nice": false}, "axis": {"orient": "left", "offset": -25, "values": [0, 0.05, 0.1, 0.15], "format": ".2~f", "title": "MWF (100%)", "labelFontSize": 17, "labelPadding": 8, "titlePadding": 11, "titleY": 94}},
      "color": {"datum": "White Matter MWF", "type": "nominal", "scale": {"domain": ["Cortical Thickness", "Cortical MWF", "White Matter MWF"], "range": ["#1432ff", "#ff2a10", "#7b1b86"]}, "legend": {"title": null, "encode": {"symbols": {"update": {"fill": {"scale": "color", "field": "value"}, "fillOpacity": {"value": 1}, "strokeWidth": {"value": 0}}}}}}}}
   ]}
 ]
},
{"width": 2, "height": 788, "data": {"values": [{"s": 0}]}, "mark": {"type": "rule", "color": "#8c8c8c", "strokeWidth": 2},
 "encoding": {"x": {"field": "s", "type": "quantitative", "scale": {"domain": [-1, 1]}, "axis": null},
  "y": {"datum": 1.104, "type": "quantitative", "scale": {"domain": [0, 1], "nice": false}, "axis": null}, "y2": {"datum": 0}}},
{
 "title": {"text": "Supramarginal", "anchor": "middle", "offset": 35},
 "spacing": 78,
 "vconcat": [
  {"spacing": 29, "vconcat": [
   {"width": 294, "height": 174,
    "encoding": {"x": {"field": "a", "type": "quantitative", "scale": {"domain": [300, 2300], "nice": false, "range": [3, 294]}, "axis": {"values": [300, 800, 1300, 1800, 2300], "format": "d", "title": null, "labelFontSize": 17, "labelPadding": 6}}},
    "layer": [
     {"mark": {"type": "circle", "size": 75, "opacity": 1, "color": "#67a5df", "stroke": "#4d8ccb", "strokeWidth": 0.6},
      "encoding": {"y": {"field": "t2", "type": "quantitative", "scale": {"domain": [0, 5], "nice": false}, "axis": {"orient": "left", "offset": -3, "values": [0, 1, 2, 3, 4, 5], "title": "Cortical Thickness (mm)", "labelFontSize": 17, "labelPadding": 9, "titlePadding": 13, "titleY": 100}}}},
     {"mark": {"type": "circle", "size": 75, "opacity": 1, "color": "#5e4a7d", "stroke": "#47365f", "strokeWidth": 0.6},
      "encoding": {"y": {"field": "w2", "type": "quantitative", "scale": {"domain": [0, 0.16], "nice": false}, "axis": {"orient": "right", "values": [0, 0.05, 0.1, 0.15], "format": ".2~f", "title": "White Matter MWF (100%)", "labelFontSize": 17, "labelPadding": 8, "titlePadding": 13, "titleY": 100, "titleAngle": 270, "titleBaseline": "top"}}}},
     {"transform": [{"regression": "t2", "on": "a", "method": "log"}], "mark": {"type": "line", "strokeWidth": 3},
      "encoding": {"y": {"field": "t2", "type": "quantitative", "scale": {"domain": [0, 5], "nice": false}, "axis": null},
       "color": {"datum": "Cortical Thickness", "type": "nominal", "scale": {"domain": ["Cortical Thickness", "Cortical MWF", "White Matter MWF"], "range": ["#1432ff", "#ff2a10", "#7b1b86"]}, "legend": {"title": null, "encode": {"symbols": {"update": {"fill": {"scale": "color", "field": "value"}, "fillOpacity": {"value": 1}, "strokeWidth": {"value": 0}}}}}}}},
     {"transform": [{"regression": "w2", "on": "a", "method": "log"}], "mark": {"type": "line", "strokeWidth": 3},
      "encoding": {"y": {"field": "w2", "type": "quantitative", "scale": {"domain": [0, 0.16], "nice": false}, "axis": null},
       "color": {"datum": "White Matter MWF", "type": "nominal", "scale": {"domain": ["Cortical Thickness", "Cortical MWF", "White Matter MWF"], "range": ["#1432ff", "#ff2a10", "#7b1b86"]}, "legend": {"title": null, "encode": {"symbols": {"update": {"fill": {"scale": "color", "field": "value"}, "fillOpacity": {"value": 1}, "strokeWidth": {"value": 0}}}}}}}}
    ],
    "resolve": {"scale": {"y": "independent"}}},
   {"width": 300, "height": 179,
    "encoding": {"x": {"field": "a", "type": "quantitative", "scale": {"domain": [300, 2300], "nice": false}, "axis": {"values": [300, 800, 1300, 1800, 2300], "format": "d", "title": null, "labelFontSize": 15, "labelPadding": 6}}},
    "layer": [
     {"mark": {"type": "circle", "size": 75, "opacity": 1, "color": "#67a5df", "stroke": "#4d8ccb", "strokeWidth": 0.6},
      "encoding": {"y": {"field": "t2", "type": "quantitative", "scale": {"domain": [0, 4], "nice": false}, "axis": {"orient": "left", "values": [0, 1, 2, 3, 4], "title": "Cortical Thickness (mm)", "labelFontSize": 15, "labelPadding": 8, "titlePadding": 11, "titleY": 97}}}},
     {"mark": {"type": "circle", "size": 75, "opacity": 1, "color": "#ec7b74", "stroke": "#d4605a", "strokeWidth": 0.6},
      "encoding": {"y": {"field": "c2", "type": "quantitative", "scale": {"domain": [0, 0.13], "nice": false}, "axis": {"orient": "right", "values": [0, 0.04, 0.08, 0.12], "format": ".2~f", "title": "Cortical MWF (100%)", "labelFontSize": 15, "labelPadding": 8, "titlePadding": 11, "titleY": 97, "titleAngle": 270, "titleBaseline": "top"}}}},
     {"transform": [{"regression": "t2", "on": "a", "method": "log"}], "mark": {"type": "line", "strokeWidth": 3},
      "encoding": {"y": {"field": "t2", "type": "quantitative", "scale": {"domain": [0, 4], "nice": false}, "axis": null},
       "color": {"datum": "Cortical Thickness", "type": "nominal", "scale": {"domain": ["Cortical Thickness", "Cortical MWF", "White Matter MWF"], "range": ["#1432ff", "#ff2a10", "#7b1b86"]}, "legend": {"title": null, "encode": {"symbols": {"update": {"fill": {"scale": "color", "field": "value"}, "fillOpacity": {"value": 1}, "strokeWidth": {"value": 0}}}}}}}},
     {"transform": [{"regression": "c2", "on": "a", "method": "log"}], "mark": {"type": "line", "strokeWidth": 3},
      "encoding": {"y": {"field": "c2", "type": "quantitative", "scale": {"domain": [0, 0.13], "nice": false}, "axis": null},
       "color": {"datum": "Cortical MWF", "type": "nominal", "scale": {"domain": ["Cortical Thickness", "Cortical MWF", "White Matter MWF"], "range": ["#1432ff", "#ff2a10", "#7b1b86"]}, "legend": {"title": null, "encode": {"symbols": {"update": {"fill": {"scale": "color", "field": "value"}, "fillOpacity": {"value": 1}, "strokeWidth": {"value": 0}}}}}}}}
    ],
    "resolve": {"scale": {"y": "independent"}}}
  ]},
  {"width": 315, "height": 173,
   "encoding": {"x": {"field": "a", "type": "quantitative", "scale": {"domain": [300, 2300], "nice": false, "range": [25, 315]}, "axis": {"values": [300, 800, 1300, 1800, 2300], "format": "d", "title": "Age (Days)", "labelFontSize": 17, "labelPadding": 7, "titlePadding": 22, "titleX": 158}}},
   "layer": [
    {"mark": {"type": "circle", "size": 75, "opacity": 1, "color": "#ec7b74", "stroke": "#d4605a", "strokeWidth": 0.6},
     "encoding": {"y": {"field": "c2", "type": "quantitative", "scale": {"domain": [0, 0.16], "nice": false}, "axis": {"orient": "left", "offset": -25, "values": [0, 0.05, 0.1, 0.15], "format": ".2~f", "title": "MWF (100%)", "labelFontSize": 17, "labelPadding": 8, "titlePadding": 11, "titleY": 94}}}},
    {"mark": {"type": "circle", "size": 75, "opacity": 1, "color": "#5e4a7d", "stroke": "#47365f", "strokeWidth": 0.6},
     "encoding": {"y": {"field": "w2", "type": "quantitative", "scale": {"domain": [0, 0.16], "nice": false}, "axis": {"orient": "left", "offset": -25, "values": [0, 0.05, 0.1, 0.15], "format": ".2~f", "title": "MWF (100%)", "labelFontSize": 17, "labelPadding": 8, "titlePadding": 11, "titleY": 94}}}},
    {"transform": [{"regression": "c2", "on": "a", "method": "log"}], "mark": {"type": "line", "strokeWidth": 3},
     "encoding": {"y": {"field": "c2", "type": "quantitative", "scale": {"domain": [0, 0.16], "nice": false}, "axis": {"orient": "left", "offset": -25, "values": [0, 0.05, 0.1, 0.15], "format": ".2~f", "title": "MWF (100%)", "labelFontSize": 17, "labelPadding": 8, "titlePadding": 11, "titleY": 94}},
      "color": {"datum": "Cortical MWF", "type": "nominal", "scale": {"domain": ["Cortical Thickness", "Cortical MWF", "White Matter MWF"], "range": ["#1432ff", "#ff2a10", "#7b1b86"]}, "legend": {"title": null, "encode": {"symbols": {"update": {"fill": {"scale": "color", "field": "value"}, "fillOpacity": {"value": 1}, "strokeWidth": {"value": 0}}}}}}}},
    {"transform": [{"regression": "w2", "on": "a", "method": "log"}], "mark": {"type": "line", "strokeWidth": 3},
     "encoding": {"y": {"field": "w2", "type": "quantitative", "scale": {"domain": [0, 0.16], "nice": false}, "axis": {"orient": "left", "offset": -25, "values": [0, 0.05, 0.1, 0.15], "format": ".2~f", "title": "MWF (100%)", "labelFontSize": 17, "labelPadding": 8, "titlePadding": 11, "titleY": 94}},
      "color": {"datum": "White Matter MWF", "type": "nominal", "scale": {"domain": ["Cortical Thickness", "Cortical MWF", "White Matter MWF"], "range": ["#1432ff", "#ff2a10", "#7b1b86"]}, "legend": {"title": null, "encode": {"symbols": {"update": {"fill": {"scale": "color", "field": "value"}, "fillOpacity": {"value": 1}, "strokeWidth": {"value": 0}}}}}}}}
   ]}
 ]
},
{"width": 2, "height": 788, "data": {"values": [{"s": 0}]}, "mark": {"type": "rule", "color": "#8c8c8c", "strokeWidth": 2},
 "encoding": {"x": {"field": "s", "type": "quantitative", "scale": {"domain": [-1, 1]}, "axis": null},
  "y": {"datum": 1.104, "type": "quantitative", "scale": {"domain": [0, 1], "nice": false}, "axis": null}, "y2": {"datum": 0}}},
{
 "title": {"text": "Middle Temporal", "anchor": "middle", "offset": 35},
 "spacing": 78,
 "vconcat": [
  {"spacing": 29, "vconcat": [
   {"width": 294, "height": 174,
    "encoding": {"x": {"field": "a", "type": "quantitative", "scale": {"domain": [300, 2300], "nice": false, "range": [3, 294]}, "axis": {"values": [300, 800, 1300, 1800, 2300], "format": "d", "title": null, "labelFontSize": 17, "labelPadding": 6}}},
    "layer": [
     {"mark": {"type": "circle", "size": 75, "opacity": 1, "color": "#67a5df", "stroke": "#4d8ccb", "strokeWidth": 0.6},
      "encoding": {"y": {"field": "t3", "type": "quantitative", "scale": {"domain": [0, 5], "nice": false}, "axis": {"orient": "left", "offset": -3, "values": [0, 1, 2, 3, 4, 5], "title": "Cortical Thickness (mm)", "labelFontSize": 17, "labelPadding": 9, "titlePadding": 13, "titleY": 100}}}},
     {"mark": {"type": "circle", "size": 75, "opacity": 1, "color": "#5e4a7d", "stroke": "#47365f", "strokeWidth": 0.6},
      "encoding": {"y": {"field": "w3", "type": "quantitative", "scale": {"domain": [0, 0.16], "nice": false}, "axis": {"orient": "right", "values": [0, 0.05, 0.1, 0.15], "format": ".2~f", "title": "White Matter MWF (100%)", "labelFontSize": 17, "labelPadding": 8, "titlePadding": 13, "titleY": 100, "titleAngle": 270, "titleBaseline": "top"}}}},
     {"transform": [{"regression": "t3", "on": "a", "method": "log"}], "mark": {"type": "line", "strokeWidth": 3},
      "encoding": {"y": {"field": "t3", "type": "quantitative", "scale": {"domain": [0, 5], "nice": false}, "axis": null},
       "color": {"datum": "Cortical Thickness", "type": "nominal", "scale": {"domain": ["Cortical Thickness", "Cortical MWF", "White Matter MWF"], "range": ["#1432ff", "#ff2a10", "#7b1b86"]}, "legend": {"title": null, "encode": {"symbols": {"update": {"fill": {"scale": "color", "field": "value"}, "fillOpacity": {"value": 1}, "strokeWidth": {"value": 0}}}}}}}},
     {"transform": [{"regression": "w3", "on": "a", "method": "log"}], "mark": {"type": "line", "strokeWidth": 3},
      "encoding": {"y": {"field": "w3", "type": "quantitative", "scale": {"domain": [0, 0.16], "nice": false}, "axis": null},
       "color": {"datum": "White Matter MWF", "type": "nominal", "scale": {"domain": ["Cortical Thickness", "Cortical MWF", "White Matter MWF"], "range": ["#1432ff", "#ff2a10", "#7b1b86"]}, "legend": {"title": null, "encode": {"symbols": {"update": {"fill": {"scale": "color", "field": "value"}, "fillOpacity": {"value": 1}, "strokeWidth": {"value": 0}}}}}}}}
    ],
    "resolve": {"scale": {"y": "independent"}}},
   {"width": 300, "height": 179,
    "encoding": {"x": {"field": "a", "type": "quantitative", "scale": {"domain": [300, 2300], "nice": false}, "axis": {"values": [300, 800, 1300, 1800, 2300], "format": "d", "title": null, "labelFontSize": 15, "labelPadding": 6}}},
    "layer": [
     {"mark": {"type": "circle", "size": 75, "opacity": 1, "color": "#67a5df", "stroke": "#4d8ccb", "strokeWidth": 0.6},
      "encoding": {"y": {"field": "t3", "type": "quantitative", "scale": {"domain": [0, 4], "nice": false}, "axis": {"orient": "left", "values": [0, 1, 2, 3, 4], "title": "Cortical Thickness (mm)", "labelFontSize": 15, "labelPadding": 8, "titlePadding": 11, "titleY": 97}}}},
     {"mark": {"type": "circle", "size": 75, "opacity": 1, "color": "#ec7b74", "stroke": "#d4605a", "strokeWidth": 0.6},
      "encoding": {"y": {"field": "c3", "type": "quantitative", "scale": {"domain": [0, 0.13], "nice": false}, "axis": {"orient": "right", "values": [0, 0.04, 0.08, 0.12], "format": ".2~f", "title": "Cortical MWF (100%)", "labelFontSize": 15, "labelPadding": 8, "titlePadding": 11, "titleY": 97, "titleAngle": 270, "titleBaseline": "top"}}}},
     {"transform": [{"regression": "t3", "on": "a", "method": "log"}], "mark": {"type": "line", "strokeWidth": 3},
      "encoding": {"y": {"field": "t3", "type": "quantitative", "scale": {"domain": [0, 4], "nice": false}, "axis": null},
       "color": {"datum": "Cortical Thickness", "type": "nominal", "scale": {"domain": ["Cortical Thickness", "Cortical MWF", "White Matter MWF"], "range": ["#1432ff", "#ff2a10", "#7b1b86"]}, "legend": {"title": null, "encode": {"symbols": {"update": {"fill": {"scale": "color", "field": "value"}, "fillOpacity": {"value": 1}, "strokeWidth": {"value": 0}}}}}}}},
     {"transform": [{"regression": "c3", "on": "a", "method": "log"}], "mark": {"type": "line", "strokeWidth": 3},
      "encoding": {"y": {"field": "c3", "type": "quantitative", "scale": {"domain": [0, 0.13], "nice": false}, "axis": null},
       "color": {"datum": "Cortical MWF", "type": "nominal", "scale": {"domain": ["Cortical Thickness", "Cortical MWF", "White Matter MWF"], "range": ["#1432ff", "#ff2a10", "#7b1b86"]}, "legend": {"title": null, "encode": {"symbols": {"update": {"fill": {"scale": "color", "field": "value"}, "fillOpacity": {"value": 1}, "strokeWidth": {"value": 0}}}}}}}}
    ],
    "resolve": {"scale": {"y": "independent"}}}
  ]},
  {"width": 315, "height": 173,
   "encoding": {"x": {"field": "a", "type": "quantitative", "scale": {"domain": [300, 2300], "nice": false, "range": [25, 315]}, "axis": {"values": [300, 800, 1300, 1800, 2300], "format": "d", "title": "Age (Days)", "labelFontSize": 17, "labelPadding": 7, "titlePadding": 22, "titleX": 158}}},
   "layer": [
    {"mark": {"type": "circle", "size": 75, "opacity": 1, "color": "#ec7b74", "stroke": "#d4605a", "strokeWidth": 0.6},
     "encoding": {"y": {"field": "c3", "type": "quantitative", "scale": {"domain": [0, 0.16], "nice": false}, "axis": {"orient": "left", "offset": -25, "values": [0, 0.05, 0.1, 0.15], "format": ".2~f", "title": "MWF (100%)", "labelFontSize": 17, "labelPadding": 8, "titlePadding": 11, "titleY": 94}}}},
    {"mark": {"type": "circle", "size": 75, "opacity": 1, "color": "#5e4a7d", "stroke": "#47365f", "strokeWidth": 0.6},
     "encoding": {"y": {"field": "w3", "type": "quantitative", "scale": {"domain": [0, 0.16], "nice": false}, "axis": {"orient": "left", "offset": -25, "values": [0, 0.05, 0.1, 0.15], "format": ".2~f", "title": "MWF (100%)", "labelFontSize": 17, "labelPadding": 8, "titlePadding": 11, "titleY": 94}}}},
    {"transform": [{"regression": "c3", "on": "a", "method": "log"}], "mark": {"type": "line", "strokeWidth": 3},
     "encoding": {"y": {"field": "c3", "type": "quantitative", "scale": {"domain": [0, 0.16], "nice": false}, "axis": {"orient": "left", "offset": -25, "values": [0, 0.05, 0.1, 0.15], "format": ".2~f", "title": "MWF (100%)", "labelFontSize": 17, "labelPadding": 8, "titlePadding": 11, "titleY": 94}},
      "color": {"datum": "Cortical MWF", "type": "nominal", "scale": {"domain": ["Cortical Thickness", "Cortical MWF", "White Matter MWF"], "range": ["#1432ff", "#ff2a10", "#7b1b86"]}, "legend": {"title": null, "encode": {"symbols": {"update": {"fill": {"scale": "color", "field": "value"}, "fillOpacity": {"value": 1}, "strokeWidth": {"value": 0}}}}}}}},
    {"transform": [{"regression": "w3", "on": "a", "method": "log"}], "mark": {"type": "line", "strokeWidth": 3},
     "encoding": {"y": {"field": "w3", "type": "quantitative", "scale": {"domain": [0, 0.16], "nice": false}, "axis": {"orient": "left", "offset": -25, "values": [0, 0.05, 0.1, 0.15], "format": ".2~f", "title": "MWF (100%)", "labelFontSize": 17, "labelPadding": 8, "titlePadding": 11, "titleY": 94}},
      "color": {"datum": "White Matter MWF", "type": "nominal", "scale": {"domain": ["Cortical Thickness", "Cortical MWF", "White Matter MWF"], "range": ["#1432ff", "#ff2a10", "#7b1b86"]}, "legend": {"title": null, "encode": {"symbols": {"update": {"fill": {"scale": "color", "field": "value"}, "fillOpacity": {"value": 1}, "strokeWidth": {"value": 0}}}}}}}}
   ]}
 ]
}
]
}
